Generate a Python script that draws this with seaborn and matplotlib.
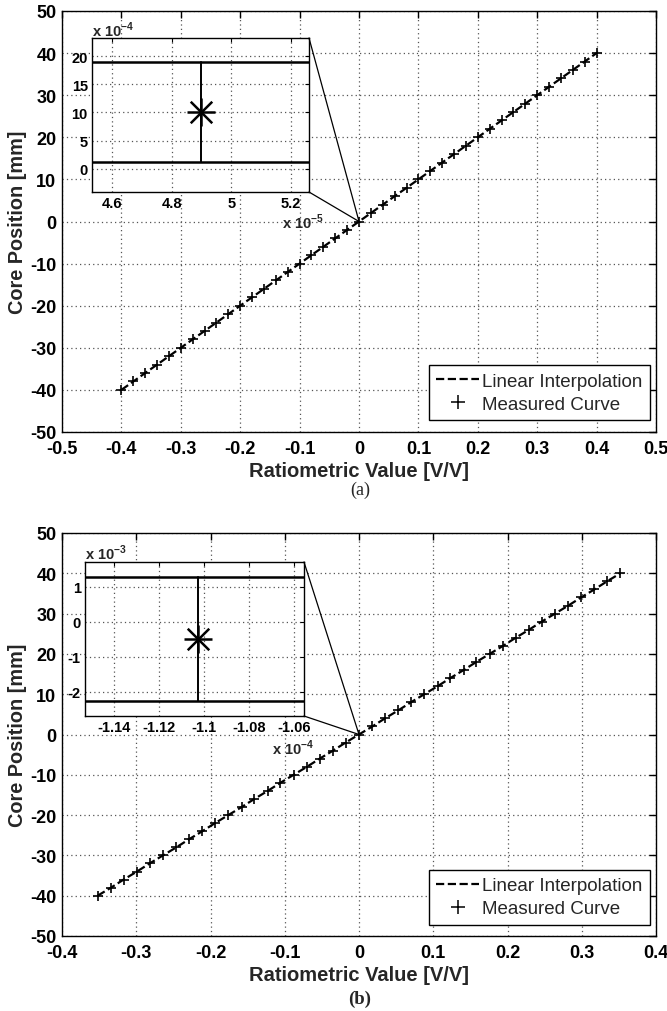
import matplotlib
matplotlib.use("Agg")
import matplotlib.pyplot as plt
import seaborn as sns
import pandas as pd
from matplotlib.lines import Line2D
from matplotlib.patches import ConnectionPatch

sns.set_style("white")
plt.rcParams['font.family'] = ['Liberation Sans', 'DejaVu Sans']
plt.rcParams['mathtext.fontset'] = 'custom'
plt.rcParams['mathtext.rm'] = 'Liberation Sans:bold'
plt.rcParams['mathtext.bf'] = 'Liberation Sans:bold'

# ---------------- data ----------------
core_position = [-40, -38, -36, -34, -32, -30, -28, -26, -24, -22, -20, -18, -16, -14,
                 -12, -10, -8, -6, -4, -2, 0, 2, 4, 6, 8, 10, 12, 14, 16, 18, 20,
                 22, 24, 26, 28, 30, 32, 34, 36, 38, 40]

ratio_a = [-0.400, -0.380, -0.360, -0.340, -0.320, -0.300, -0.280, -0.260, -0.240,
           -0.220, -0.200, -0.180, -0.160, -0.140, -0.120, -0.100, -0.080, -0.060,
           -0.040, -0.020, 0.000049, 0.020, 0.040, 0.060, 0.080, 0.100, 0.120, 0.140,
           0.160, 0.180, 0.200, 0.220, 0.240, 0.260, 0.280, 0.300, 0.320, 0.340,
           0.360, 0.380, 0.400]

ratio_b = [-0.352, -0.334, -0.317, -0.299, -0.282, -0.264, -0.246, -0.229, -0.211,
           -0.194, -0.176, -0.158, -0.141, -0.123, -0.106, -0.088, -0.070, -0.053,
           -0.035, -0.018, -0.00011, 0.018, 0.035, 0.053, 0.070, 0.088, 0.106, 0.123,
           0.141, 0.158, 0.176, 0.194, 0.211, 0.229, 0.246, 0.264, 0.282, 0.299,
           0.317, 0.334, 0.352]

# zoomed detail around the origin point
zoom_a_x = [4.9e-5]
zoom_a_y = [1.0e-3]
zoom_a_band = [0.124e-3, 1.9e-3]
zoom_b_x = [-1.1027e-4]
zoom_b_y = [-0.49e-3]
zoom_b_band = [-2.26e-3, 1.29e-3]

main_xticks_a = [-0.5, -0.4, -0.3, -0.2, -0.1, 0, 0.1, 0.2, 0.3, 0.4, 0.5]
main_xlabels_a = ['-0.5', '-0.4', '-0.3', '-0.2', '-0.1', '0', '0.1', '0.2', '0.3', '0.4', '0.5']
main_xticks_b = [-0.4, -0.3, -0.2, -0.1, 0, 0.1, 0.2, 0.3, 0.4]
main_xlabels_b = ['-0.4', '-0.3', '-0.2', '-0.1', '0', '0.1', '0.2', '0.3', '0.4']
main_yticks = [-50, -40, -30, -20, -10, 0, 10, 20, 30, 40, 50]

inset_a_xticks = [4.6, 4.8, 5.0, 5.2]
inset_a_xlabels = ['4.6', '4.8', '5', '5.2']
inset_a_yticks = [0, 5, 10, 15, 20]
inset_b_xticks = [-1.14, -1.12, -1.10, -1.08, -1.06]
inset_b_xlabels = ['-1.14', '-1.12', '-1.1', '-1.08', '-1.06']
inset_b_yticks = [-2, -1, 0, 1]

df_a = pd.DataFrame({'ratio': ratio_a, 'pos': core_position})
df_b = pd.DataFrame({'ratio': ratio_b, 'pos': core_position})

fig = plt.figure(figsize=(6.67, 10.12), dpi=100)
W, H = 667.0, 1012.0

def px_axes(l, t, r, b):
    return fig.add_axes([l / W, 1 - b / H, (r - l) / W, (b - t) / H])

grid_kw = dict(color='#555555', linestyle=(0, (1, 2.5)), linewidth=0.9)


def style_main(ax, xlim, xticks, xlabels):
    ax.set_xlim(*xlim)
    ax.set_ylim(-50, 50)
    ax.set_xticks(xticks)
    ax.set_xticklabels(xlabels)
    ax.set_yticks(main_yticks)
    ax.set_yticklabels([str(v) for v in main_yticks])
    ax.tick_params(direction='in', length=5, width=1, top=True, right=True,
                   labelsize=13, colors='black')
    ax.tick_params(axis='x', pad=6)
    ax.tick_params(axis='y', pad=4)
    for lab in ax.get_xticklabels() + ax.get_yticklabels():
        lab.set_fontweight('bold')
    ax.grid(True, **grid_kw)
    for s in ax.spines.values():
        s.set_color('black')
        s.set_linewidth(1.0)
    ax.set_xlabel('Ratiometric Value [V/V]', fontsize=14.5, fontweight='bold', labelpad=3)
    ax.set_ylabel('Core Position [mm]', fontsize=14.3, fontweight='bold', labelpad=2)


def draw_main(ax, df):
    sns.lineplot(data=df, x='ratio', y='pos', ax=ax, color='black',
                 linestyle='--', linewidth=1.6, legend=False, zorder=3)
    sns.scatterplot(data=df, x='ratio', y='pos', ax=ax, marker='+', s=60,
                    color='black', linewidth=1.2, legend=False, zorder=4)
    handles = [Line2D([], [], color='black', linestyle='--', linewidth=1.6),
               Line2D([], [], color='black', linestyle='none', marker='+',
                      markersize=10, markeredgewidth=1.1)]
    leg = ax.legend(handles, ['Linear Interpolation', 'Measured Curve'],
                    loc='lower right', fontsize=13.5, frameon=True, fancybox=False,
                    edgecolor='black', framealpha=1, borderpad=0.4,
                    handlelength=2.3, handletextpad=0.15, labelspacing=0.3,
                    borderaxespad=0.0, bbox_to_anchor=(0.99, 0.028))
    leg.get_frame().set_linewidth(1.0)
    leg.set_zorder(10)


def style_inset(ax, xlim, ylim, xticks, xlabels, yticks, ylabels):
    ax.set_facecolor('white')
    ax.set_xlim(*xlim)
    ax.set_ylim(*ylim)
    ax.set_xticks(xticks)
    ax.set_xticklabels(xlabels)
    ax.set_yticks(yticks)
    ax.set_yticklabels(ylabels)
    ax.tick_params(direction='in', length=3, width=0.8, top=True, right=True,
                   labelsize=10.5, colors='black', pad=3)
    ax.tick_params(axis='y', pad=3)
    for lab in ax.get_xticklabels() + ax.get_yticklabels():
        lab.set_fontweight('bold')
    ax.grid(True, **grid_kw)
    for s in ax.spines.values():
        s.set_color('black')
        s.set_linewidth(1.0)
    ax.set_xlabel('')
    ax.set_ylabel('')


def draw_inset(ax, xs, ys, band):
    ax.axhline(band[0], color='black', linewidth=1.8, zorder=3)
    ax.axhline(band[1], color='black', linewidth=1.8, zorder=3)
    ax.plot([xs[0], xs[0]], band, color='black', linewidth=1.4, zorder=3)
    sns.scatterplot(x=xs, y=ys, ax=ax, marker='+', s=420, color='black',
                    linewidth=1.8, legend=False, zorder=4)
    sns.scatterplot(x=xs, y=ys, ax=ax, marker='x', s=240, color='black',
                    linewidth=1.8, legend=False, zorder=4)


def connect(ax_main, ax_in, origin):
    for yf in (1, 0):
        con = ConnectionPatch(xyA=(1, yf), coordsA=ax_in.transAxes,
                              xyB=origin, coordsB=ax_main.transData,
                              color='black', linewidth=0.9, zorder=6)
        fig.add_artist(con)

# ---------------- panel (a) ----------------
ax_a = px_axes(62, 12, 656, 433)
draw_main(ax_a, df_a)
style_main(ax_a, (-0.5, 0.5), main_xticks_a, main_xlabels_a)

ins_a = px_axes(92, 39, 309, 193)
draw_inset(ins_a, [v * 1e5 for v in zoom_a_x], [v * 1e4 for v in zoom_a_y],
           [v * 1e4 for v in zoom_a_band])
style_inset(ins_a, (4.533, 5.261), (-4.1, 23.2), inset_a_xticks, inset_a_xlabels,
            inset_a_yticks, [str(v) for v in inset_a_yticks])
fig.text(92 / W, 1 - 30 / H, r'x 10$^{-4}$', fontsize=10.5, fontweight='bold',
         va='center', ha='left')
fig.text(282 / W, 1 - 222 / H, r'x 10$^{-5}$', fontsize=10.5, fontweight='bold',
         va='center', ha='left')
connect(ax_a, ins_a, (ratio_a[20], core_position[20]))
fig.text(360 / W, 1 - 490 / H, '(a)', fontsize=13, family='Liberation Serif',
         ha='center', va='center')

# ---------------- panel (b) ----------------
ax_b = px_axes(62, 534, 656, 937)
draw_main(ax_b, df_b)
style_main(ax_b, (-0.4, 0.4), main_xticks_b, main_xlabels_b)

ins_b = px_axes(85, 563, 304, 717)
draw_inset(ins_b, [v * 1e4 for v in zoom_b_x], [v * 1e3 for v in zoom_b_y],
           [v * 1e3 for v in zoom_b_band])
style_inset(ins_b, (-1.1529, -1.0556), (-2.686, 1.714), inset_b_xticks, inset_b_xlabels,
            inset_b_yticks, [str(v) for v in inset_b_yticks])
fig.text(85 / W, 1 - 553 / H, r'x 10$^{-3}$', fontsize=10.5, fontweight='bold',
         va='center', ha='left')
fig.text(272 / W, 1 - 748 / H, r'x 10$^{-4}$', fontsize=10.5, fontweight='bold',
         va='center', ha='left')
connect(ax_b, ins_b, (0, 0))
fig.text(360 / W, 1 - 999 / H, '(b)', fontsize=13.5, family='Liberation Serif',
         fontweight='bold', ha='center', va='center')

fig.savefig('out.png', dpi=100, facecolor='white')
